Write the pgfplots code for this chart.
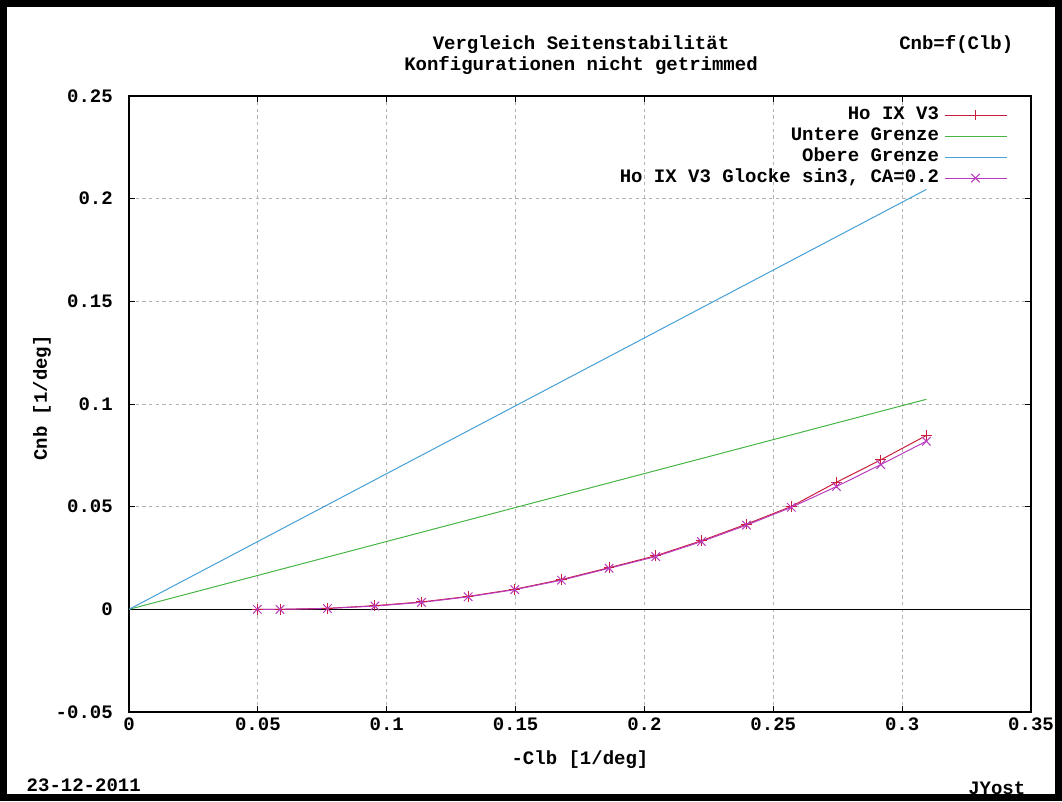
\documentclass[border=0pt]{standalone}
\usepackage{pgfplots}
\pgfplotsset{compat=1.18}
\usepackage{pgfplotstable}
\usepackage{fontspec}
\setmainfont{Liberation Mono}
\newcommand\gf{\fontsize{14.25pt}{16pt}\selectfont\bfseries}
\definecolor{cred}{RGB}{200,30,60}
\definecolor{cgreen}{RGB}{70,180,70}
\definecolor{cblue}{RGB}{70,160,215}
\definecolor{cmag}{RGB}{185,60,190}

\pgfplotstableread{
x y
0.0498 0
0.0586 0
0.0770 0.0005
0.0954 0.0018
0.1135 0.0036
0.1316 0.0063
0.1497 0.0098
0.1678 0.0145
0.1863 0.0203
0.2044 0.0261
0.2221 0.0334
0.2396 0.0415
0.2570 0.0501
0.2745 0.0619
0.2917 0.0728
0.3094 0.0847
}\hoix

\pgfplotstableread{
x y
0.0498 0
0.0586 0
0.0770 0.0004
0.0954 0.0016
0.1135 0.0034
0.1316 0.0061
0.1497 0.0096
0.1678 0.0142
0.1863 0.0200
0.2044 0.0257
0.2221 0.0330
0.2396 0.0410
0.2570 0.0497
0.2745 0.0598
0.2917 0.0705
0.3094 0.0819
}\glocke

\pgfplotstableread{
x y
0 0
0.3094 0.1023
}\untere

\pgfplotstableread{
x y
0 0
0.3094 0.2045
}\obere

\begin{document}
\begin{tikzpicture}
\useasboundingbox (0,0) rectangle (796.5pt,-600.75pt);
\draw[line width=5.25pt] (2.6pt,-2.6pt) rectangle (793.9pt,-598.15pt);
\begin{axis}[
  at={(96.75pt,-534pt)}, anchor=south west,
  scale only axis, width=676.5pt, height=462pt,
  xmin=0, xmax=0.35, ymin=-0.05, ymax=0.25,
  xtick={0,0.05,0.1,0.15,0.2,0.25,0.3,0.35},
  xticklabels={0,0.05,0.1,0.15,0.2,0.25,0.3,0.35},
  ytick={-0.05,0,0.05,0.1,0.15,0.2,0.25},
  yticklabels={-0.05,0,0.05,0.1,0.15,0.2,0.25},
  xticklabel style={font=\gf, inner sep=0pt, anchor=north, yshift=-4.5pt},
  yticklabel style={font=\gf, inner sep=0pt, anchor=east, xshift=-12pt},
  tick align=inside, major tick length=4.5pt,
  tick style={black, line width=0.75pt},
  axis line style={black, line width=0.9pt},
  grid=major,
  major grid style={gray!60, dash pattern=on 2.5pt off 2.5pt, line width=0.6pt},
  legend image code/.code={\draw[mark repeat=2,mark phase=2,#1] plot coordinates {(0pt,0pt) (23.25pt,0pt) (46.5pt,0pt)};},
  legend plot pos=right,
  legend cell align=right,
  legend style={draw=none, fill=none, inner sep=0pt, outer sep=0pt,
    at={(0.9734,0.986)}, anchor=north east, font=\gf,
    nodes={inner sep=0pt, text height=11.5pt, text depth=4.25pt},
    column sep=3.75pt, row sep=0pt},
]
\addplot[black, line width=0.75pt, forget plot] coordinates {(0,0) (0.35,0)};
\addplot[cred, line width=0.75pt, mark=+, mark size=4pt] table {\hoix};
\addlegendentry{Ho IX V3}
\addplot[cgreen, line width=0.75pt] table {\untere};
\addlegendentry{Untere Grenze}
\addplot[cblue, line width=0.75pt] table {\obere};
\addlegendentry{Obere Grenze}
\addplot[cmag, line width=0.75pt, mark=x, mark size=4.5pt] table {\glocke};
\addlegendentry{Ho IX V3 Glocke sin3, CA=0.2}
\end{axis}
\node[font=\gf, anchor=base] at (435.75pt,-36.98pt) {Vergleich Seitenstabilität};
\node[font=\gf, anchor=base] at (435.75pt,-52.5pt) {Konfigurationen nicht getrimmed};
\node[font=\gf, anchor=base east] at (763.5pt,-36.98pt) {Cnb=f(Clb)};
\node[font=\gf, rotate=90] at (31.5pt,-298.5pt) {Cnb [1/deg]};
\node[font=\gf] at (435pt,-570pt) {-Clb [1/deg]};
\node[font=\gf, anchor=west] at (16.5pt,-588.75pt) {23-12-2011};
\node[font=\gf, anchor=east] at (772.5pt,-591pt) {JYost};
\end{tikzpicture}
\end{document}
